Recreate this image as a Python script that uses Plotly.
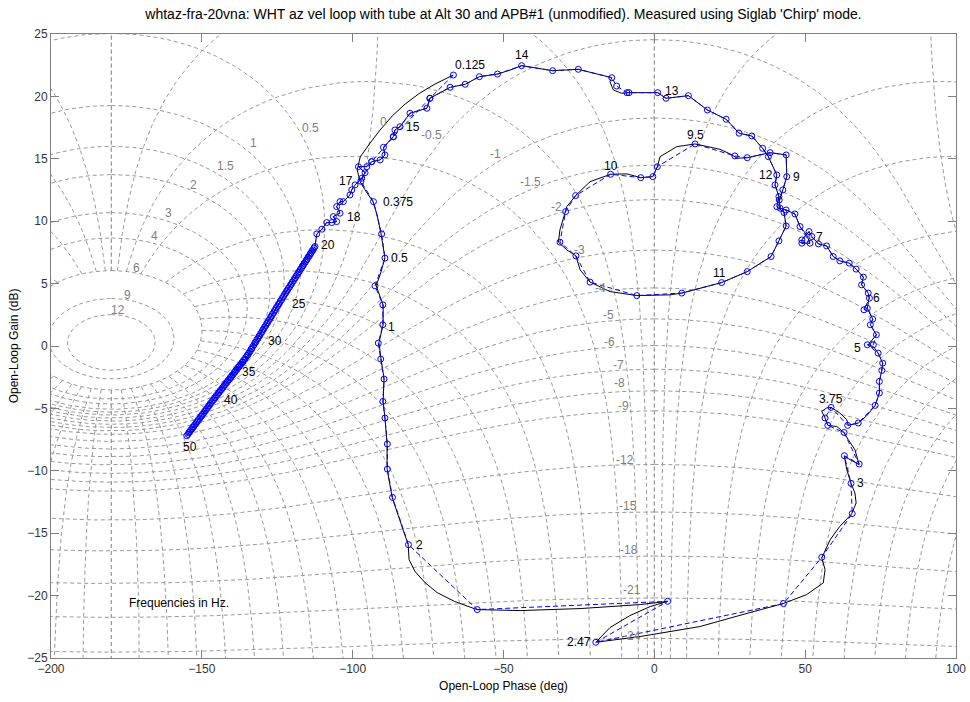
import numpy as np
import plotly.graph_objects as go

# ---------------- data ----------------
# Black trace: continuous measured open-loop response (phase deg, gain dB)
black_phase = [
    -66.7, -72.7, -77.7, -82.6, -86.9, -90.9, -94.2, -97.5, -98.5, -97.5, -95.9, -93.2, -91.9, -90.6,
    -89.3, -90.6, -92.2, -90.9, -89.9, -89.9, -91.3, -90.6, -89.6, -89.9, -89.3, -88.6, -88.6, -86.9,
    -84.3, -81.6, -81.3, -79.3, -76.0, -72.0, -66.1, -58.8, -44.5, -24.6, -4.7, 4.4, -1.4, -8.1,
    -14.7, -18.0, -19.4, -4.7, 15.1, 31.7, 42.7, 50.5, 56.0, 56.6, 55.5, 58.3, 61.5, 65.4,
    66.9, 66.5, 65.2, 63.8, 63.0, 67.9, 66.5, 64.3, 62.9, 60.5, 57.5, 56.6, 55.5, 57.1,
    58.6, 61.5, 63.8, 64.3, 67.6, 70.4, 73.2, 74.6, 74.6, 75.4, 75.7, 74.2, 72.6, 70.9,
    73.6, 71.6, 72.4, 70.6, 71.2, 70.9, 68.7, 69.3, 66.9, 64.6, 61.5, 59.3, 57.1, 54.4,
    52.2, 51.3, 48.9, 48.9, 51.6, 50.5, 48.3, 46.6, 43.7, 41.7, 41.4, 42.6, 43.9, 43.7,
    38.4, 30.8, 27.5, 25.1, 21.8, 13.5, 7.4, 1.9, 1.0, -0.5, -4.5, -9.1, -14.5, -21.3,
    -26.1, -29.0, -31.3, -31.8, -29.0, -26.0, -24.6, -21.3, -14.7, -5.8, 5.2, 9.1, 22.3, 30.8,
    38.7, 41.3, 43.7, 43.0, 40.6, 41.3, 40.0, 40.6, 37.8, 35.9, 32.3, 28.1, 23.8, 17.6,
    11.3, 3.9, 1.1, -8.4, -10.8, -13.6, -14.7, -14.1, -20.2, -25.2, -33.7, -39.0, -44.0, -47.8,
    -52.0, -58.0, -62.7, -67.7, -74.4, -75.4, -81.0, -84.3, -86.0, -86.5, -89.8, -89.3, -90.9, -93.7,
    -95.3, -98.1, -95.9, -97.0, -99.2, -100.3, -100.9, -103.1, -104.2, -105.3, -104.2, -106.4, -105.3, -106.9,
    -108.6, -110.2, -111.9, -112.5, -116.3, -123.0, -129.6, -135.1, -140.6, -146.2, -150.6, -155.0,
]
black_gain = [
    21.71, 20.99, 20.27, 19.39, 18.43, 17.31, 16.27, 15.15, 14.11, 13.15, 12.51, 11.54, 10.50, 8.98,
    7.06, 5.94, 4.82, 3.94, 3.30, 1.70, 0.26, -1.02, -2.63, -4.47, -5.75, -7.83, -9.83, -12.15,
    -13.92, -15.92, -17.12, -18.08, -18.96, -19.76, -20.48, -21.12, -21.20, -21.04, -20.72, -20.46, -20.88, -21.60,
    -22.56, -23.36, -23.74, -23.28, -22.48, -21.36, -20.64, -19.92, -18.98, -17.92, -16.98, -15.52, -14.45, -13.46,
    -12.58, -11.78, -11.01, -9.91, -8.85, -9.51, -8.31, -7.51, -6.93, -6.45, -6.36, -5.77, -5.24, -4.97,
    -4.92, -5.37, -5.91, -6.36, -6.17, -5.59, -4.76, -3.77, -2.84, -1.96, -1.37, -0.57, -0.04, 0.10,
    0.90, 1.70, 2.15, 3.03, 3.83, 4.24, 4.90, 5.52, 6.16, 6.64, 6.82, 7.17, 8.02, 8.18,
    8.77, 9.17, 8.50, 8.24, 8.24, 8.90, 9.57, 10.58, 10.90, 11.04, 11.70, 12.51, 13.57, 15.31,
    15.49, 15.09, 15.04, 15.39, 15.76, 16.19, 15.97, 15.17, 14.37, 13.57, 13.49, 13.79, 13.76, 13.17,
    12.05, 11.17, 9.30, 8.32, 7.70, 7.22, 6.10, 5.12, 4.36, 4.04, 4.10, 4.24, 5.08, 5.96,
    7.17, 8.42, 9.62, 10.69, 11.17, 11.97, 12.91, 13.71, 15.17, 15.84, 16.83, 17.05, 18.17, 18.91,
    20.06, 19.85, 20.30, 20.30, 20.25, 20.51, 21.18, 21.50, 21.85, 22.17, 22.06, 22.25, 22.46, 22.11,
    21.79, 21.58, 20.97, 20.73, 19.85, 19.05, 18.65, 17.57, 17.31, 16.77, 15.92, 15.31, 14.91, 14.77,
    14.37, 14.37, 13.89, 13.44, 12.91, 12.51, 12.10, 11.57, 11.57, 11.17, 10.64, 10.37, 9.97, 9.89,
    9.89, 9.36, 8.98, 7.97, 6.60, 3.96, 1.40, -0.90, -2.56, -4.31, -5.70, -7.19,
]

# Blue trace: sampled points (circles) joined by a dashed line
blue_phase = [
    -66.6, -74.4, -86.5, -93.7, -97.3,                                                # 0-4
    -93.1, -90.4, -89.3, -92.6, -90.0, -90.0, -91.5, -90.7, -89.6,                    # 5-13
    -90.0, -89.3, -88.5, -88.5, -86.8, -81.5, -58.7, 4.4, -19.4, 42.8,                # 14-23
    55.5, 65.6, 65.2, 63.0, 67.9, 62.9, 57.5, 56.6, 58.6, 64.1,                       # 24-33
    67.6, 73.2, 74.6, 74.6, 75.4, 75.7, 74.2, 70.6, 72.6, 73.6,                       # 34-43
    71.6, 72.4, 70.6, 69.5, 71.3, 70.9, 68.7, 69.3, 66.9, 64.6,                       # 44-53
    61.5, 59.3, 57.1, 54.4, 52.2, 51.3, 48.9, 48.9, 51.6, 48.3,                       # 54-63
    46.6, 43.7, 41.7, 41.4, 42.6, 43.9, 43.7, 38.4, 30.8, 26.7,                       # 64-73
    13.5, 1.0, -0.5, -4.5, -14.5, -26.1, -29.4, -31.3, -26.0, -21.3,                  # 74-83
    -5.8, 9.1, 22.3, 30.8, 38.7, 41.3, 43.7, 43.0, 40.6, 41.3,                        # 84-93
    40.0, 40.6, 37.8, 35.9, 32.3, 28.1, 23.8, 17.6, 11.3, 3.9,                        # 94-103
    1.1, -8.4, -9.1, -12.5, -14.1, -25.2, -33.7, -44.0, -52.0, -58.0,                 # 104-113
    -62.7, -67.7, -74.4, -75.4, -81.0, -84.3, -86.0, -86.5, -89.8, -89.3,             # 114-123
    -90.9, -93.7, -95.3, -98.1, -95.9, -97.0, -99.2, -100.3, -100.9, -103.1,          # 124-133
    -104.2, -105.3, -104.2, -106.4, -105.3, -106.9, -108.6, -110.2, -111.9, -112.5,   # 134-143
    # dense band 20 Hz -> 50 Hz (144-273)
    -112.8, -113.1, -113.5, -113.8, -114.1, -114.4, -114.8, -115.1, -115.4, -115.7,
    -116.1, -116.4, -116.7, -117.0, -117.4, -117.7, -118.0, -118.3, -118.7, -119.0,
    -119.3, -119.6, -120.0, -120.3, -120.6, -120.9, -121.3, -121.6, -121.9, -122.2,
    -122.6, -122.9,
    -123.3, -123.6, -124.0, -124.3, -124.6, -124.9, -125.3, -125.6, -125.9, -126.2,
    -126.6, -126.9, -127.2, -127.5, -127.9, -128.2, -128.5, -128.8, -129.2, -129.5,
    -129.8, -130.1, -130.5, -130.8, -131.1, -131.4, -131.8, -132.1, -132.4, -132.7,
    -133.1, -133.4, -133.7, -134.0, -134.4, -134.7, -135.0,
    -135.4, -135.7, -136.1, -136.4, -136.7, -137.0, -137.4, -137.7, -138.0, -138.3,
    -138.7, -139.0, -139.3, -139.6, -140.0, -140.3, -140.6, -140.9, -141.3, -141.6,
    -141.9, -142.2, -142.6, -142.9, -143.2, -143.5, -143.9, -144.2, -144.5, -144.8,
    -145.2, -145.5, -145.8, -146.1,
    -146.5, -146.8, -147.2, -147.5, -147.8, -148.1, -148.5, -148.8, -149.1, -149.4,
    -149.8, -150.1, -150.4, -150.7, -151.1, -151.4, -151.7, -152.0, -152.4, -152.7,
    -153.0, -153.3, -153.7, -154.0, -154.3, -154.6, -155.0,
]
blue_gain = [
    21.71, 19.85, 16.77, 14.77, 13.20,
    11.57, 8.98, 7.04, 4.82, 3.30, 1.70, 0.23, -1.05, -2.65,
    -4.44, -5.77, -7.85, -9.86, -12.13, -15.92, -21.12, -20.46, -23.74, -20.64,
    -16.93, -13.43, -11.01, -8.79, -9.46, -6.93, -6.36, -5.77, -4.92, -6.36,
    -6.17, -4.76, -3.77, -2.84, -1.96, -1.37, -0.57, 0.10, 0.10, 0.90,
    1.70, 2.15, 3.03, 2.90, 3.83, 4.24, 4.90, 5.52, 6.16, 6.64,
    6.82, 7.17, 8.02, 8.18, 8.77, 9.17, 8.50, 8.24, 8.24, 9.57,
    10.58, 10.90, 11.04, 11.70, 12.51, 13.57, 15.31, 15.49, 15.09, 15.23,
    16.19, 14.37, 13.57, 13.49, 13.76, 12.05, 10.77, 8.32, 7.22, 5.12,
    4.04, 4.24, 5.08, 5.96, 7.17, 8.42, 9.62, 10.69, 11.17, 11.97,
    12.91, 13.71, 15.17, 15.84, 16.83, 17.05, 18.17, 18.91, 20.06, 19.85,
    20.30, 20.30, 20.30, 20.83, 21.50, 22.17, 22.06, 22.46, 21.79, 21.58,
    20.97, 20.73, 19.85, 19.05, 18.65, 17.57, 17.31, 16.77, 15.92, 15.31,
    14.91, 14.77, 14.37, 14.37, 13.89, 13.44, 12.91, 12.51, 12.10, 11.57,
    11.57, 11.17, 10.64, 10.37, 9.97, 9.89, 9.89, 9.36, 8.98, 7.97,
    # dense band
    7.86, 7.70, 7.62, 7.44, 7.38, 7.20, 7.12, 6.95, 6.88, 6.72,
    6.62, 6.45, 6.40, 6.22, 6.13, 5.95, 5.90, 5.72, 5.63, 5.46,
    5.40, 5.23, 5.13, 4.96, 4.91, 4.73, 4.64, 4.46, 4.41, 4.23,
    4.14, 3.97,
    3.87, 3.69, 3.59, 3.41, 3.35, 3.18, 3.08, 2.90, 2.84, 2.66,
    2.56, 2.38, 2.32, 2.14, 2.04, 1.87, 1.81, 1.63, 1.53, 1.35,
    1.29, 1.11, 1.01, 0.83, 0.77, 0.60, 0.50, 0.32, 0.26, 0.08,
    -0.02, -0.20, -0.26, -0.44, -0.54, -0.71, -0.77,
    -0.90, -1.06, -1.12, -1.28, -1.31, -1.46, -1.53, -1.68, -1.72, -1.87,
    -1.94, -2.09, -2.12, -2.28, -2.34, -2.50, -2.53, -2.69, -2.75, -2.90,
    -2.94, -3.09, -3.16, -3.31, -3.35, -3.50, -3.56, -3.72, -3.75, -3.91,
    -3.97, -4.13, -4.16, -4.31,
    -4.38, -4.54, -4.61, -4.77, -4.80, -4.96, -5.03, -5.19, -5.23, -5.39,
    -5.46, -5.62, -5.65, -5.81, -5.88, -6.04, -6.08, -6.24, -6.31, -6.47,
    -6.50, -6.66, -6.73, -6.89, -6.93, -7.08, -7.19,
]

# Frequency labels (Hz) and the blue point each one belongs to
freq_labels = ["0.125", "0.375", "0.5", "1", "2", "2.47", "3", "3.75", "5", "6", "7", "9", "9.5",
               "10", "11", "12", "13", "14", "15", "17", "18", "20", "25", "30", "35", "40", "50"]
freq_label_idx = [0, 5, 7, 10, 19, 22, 26, 32, 41, 48, 59, 69, 74,
                  78, 86, 95, 102, 111, 119, 129, 137, 143, 177, 205, 223, 243, 273]

# Nichols grid: closed-loop gain contours (dB) and closed-loop phase contours (deg)
grid_m_db = [12, 9, 6, 4, 3, 2, 1.5, 1, 0.5, 0, -0.5, -1, -1.5, -2, -3, -4, -5, -6, -7, -8, -9,
             -12, -15, -18, -21, -24]
grid_psi_deg = [0, -2, -5, -10, -20, -30, -40, -50, -60, -70, -80, -90, -100, -110, -120,
                -130, -140, -150, -160, -170, -180]
grid_label_text = ["12", "9", "6", "4", "3", "2", "1.5", "1", "0.5", "0", "-0.5", "-1", "-1.5", "-2",
                   "-3", "-4", "-5", "-6", "-7", "-8", "-9", "-12", "-15", "-18", "-21", "-24"]

# ---------------- layout / style settings ----------------
grid_label_phase = [-177.8, -174.8, -171.5, -165.8, -161.2, -152.9, -142.3, -133.0, -114.1, -89.8,
                    -73.8, -52.8, -40.9, -32.4, -24.9, -18.0, -15.2, -14.9, -11.9, -11.4, -10.3,
                    -9.7, -8.6, -8.3, -7.5, -7.5]
grid_label_gain = [2.90, 4.10, 6.26, 8.82, 10.66, 12.91, 14.43, 16.27, 17.49, 17.97,
                   16.91, 15.39, 13.17, 11.17, 7.70, 4.64, 2.50, 0.36, -1.51, -2.97, -4.79,
                   -9.11, -12.79, -16.32, -19.52, -23.20]
freq_label_shift = [(17, 10), (25, 0), (15, 0), (9, -2), (11, 0), (-17, 0), (9, 0), (0, 8), (-10, -3),
                    (7, 0), (10, -5), (10, 0), (0, 9), (0, 8), (-2, 10), (-11, 0), (-16, 5), (0, 11),
                    (13, 0), (-16, -3), (21, 0), (13, 2), (18, -4), (21, 4), (13, -2), (15, -4), (3, -11)]

FONT = "Liberation Sans, Arial, Helvetica, sans-serif"
GRID_COLOR = "#999999"
PSI_MAX_CL_DB = 6.0   # phase contours are drawn only outside the 6 dB closed-loop contour


def wrap_neg(ph):
    return np.where(ph > 0, ph - 360.0, ph)


def add_segment(xs, ys, ph, gd):
    # break the polyline wherever the phase wraps
    jumps = np.where(np.abs(np.diff(ph)) > 90)[0]
    start = 0
    for j in list(jumps) + [len(ph) - 1]:
        xs.extend(ph[start:j + 1].tolist()); ys.extend(gd[start:j + 1].tolist())
        xs.append(None); ys.append(None)
        start = j + 1


gx, gy = [], []
theta = np.linspace(0, 2 * np.pi, 1801)[:-1] + 1e-4
for mdb in grid_m_db:
    m = 10 ** (mdb / 20.0)
    w = np.exp(1j * theta) / m - 1.0
    w = w[np.abs(w) > 1e-5]
    G = 1.0 / w
    ph = wrap_neg(np.degrees(np.angle(G)))
    gd = 20 * np.log10(np.abs(G))
    keep = gd < 60
    ph, gd = ph[keep], gd[keep]
    if mdb > 0:
        ph = np.append(ph, ph[0]); gd = np.append(gd, gd[0])
    for sgn in (1, -1):
        add_segment(gx, gy, sgn * ph, gd)

rho = np.logspace(np.log10(10 ** (-PSI_MAX_CL_DB / 20.0)), 3.5, 1200)
for psi in grid_psi_deg:
    w = rho * np.exp(-1j * np.radians(psi)) - 1.0
    w = w[np.abs(w) > 1e-6]
    G = 1.0 / w
    ph = wrap_neg(np.degrees(np.angle(G)))
    gd = 20 * np.log10(np.abs(G))
    keep = (gd < 60) & (gd > -60)
    ph, gd = ph[keep], gd[keep]
    for copy in (ph, -360.0 - ph, -ph):
        add_segment(gx, gy, copy, gd)

fig = go.Figure()
fig.add_trace(go.Scatter(x=gx, y=gy, mode="lines", hoverinfo="skip",
                         line=dict(color=GRID_COLOR, width=1, dash="4px,3px"), connectgaps=False))
fig.add_trace(go.Scatter(x=black_phase, y=black_gain, mode="lines",
                         line=dict(color="black", width=1)))
fig.add_trace(go.Scatter(x=blue_phase, y=blue_gain, mode="lines+markers",
                         line=dict(color="#0000ff", width=1, dash="5px,3px"),
                         marker=dict(symbol="circle-open", size=6, color="#0000ff",
                                     line=dict(width=1, color="#0000ff"))))

ann = []
for txt, ph, g in zip(grid_label_text, grid_label_phase, grid_label_gain):
    ann.append(dict(x=ph, y=g, text=txt, showarrow=False, xref="x", yref="y",
                    font=dict(family=FONT, size=12, color="#808080")))
for txt, idx, (dx, dy) in zip(freq_labels, freq_label_idx, freq_label_shift):
    ann.append(dict(x=blue_phase[idx], y=blue_gain[idx], text=txt, showarrow=False,
                    xshift=dx, yshift=dy, xref="x", yref="y",
                    font=dict(family=FONT, size=12, color="black")))
ann.append(dict(x=-174.8, y=-20.6, text="Frequencies in Hz.", showarrow=False, xanchor="left",
                xref="x", yref="y", font=dict(family=FONT, size=12, color="black")))

axis_common = dict(showline=True, linecolor="#7f7f7f", linewidth=1, mirror="ticks",
                   ticks="inside", ticklen=8, tickcolor="#7f7f7f", showgrid=False,
                   zeroline=False, tickfont=dict(family=FONT, size=12, color="#333333"))

fig.update_layout(
    width=970, height=702,
    margin=dict(l=51, r=14, t=34, b=44),
    paper_bgcolor="white", plot_bgcolor="white",
    showlegend=False,
    title=dict(text="whtaz-fra-20vna: WHT az vel loop with tube at Alt 30 and APB#1 (unmodified). "
                    "Measured using Siglab 'Chirp' mode.",
               x=0.5, xref="paper", xanchor="center", y=1 - 14 / 702, yref="container",
               yanchor="middle", font=dict(family=FONT, size=14, color="black")),
    xaxis=dict(range=[-200, 100], tickvals=[-200, -150, -100, -50, 0, 50, 100],
               title=dict(text="Open-Loop Phase (deg)", standoff=6,
                          font=dict(family=FONT, size=12, color="black")),
               automargin=False, **axis_common),
    yaxis=dict(range=[-25, 25], tickvals=list(range(-25, 30, 5)),
               title=dict(text="Open-Loop Gain (dB)", standoff=6,
                          font=dict(family=FONT, size=12, color="black")),
               automargin=False, **axis_common),
    annotations=ann,
)

fig.write_html("out.html")
